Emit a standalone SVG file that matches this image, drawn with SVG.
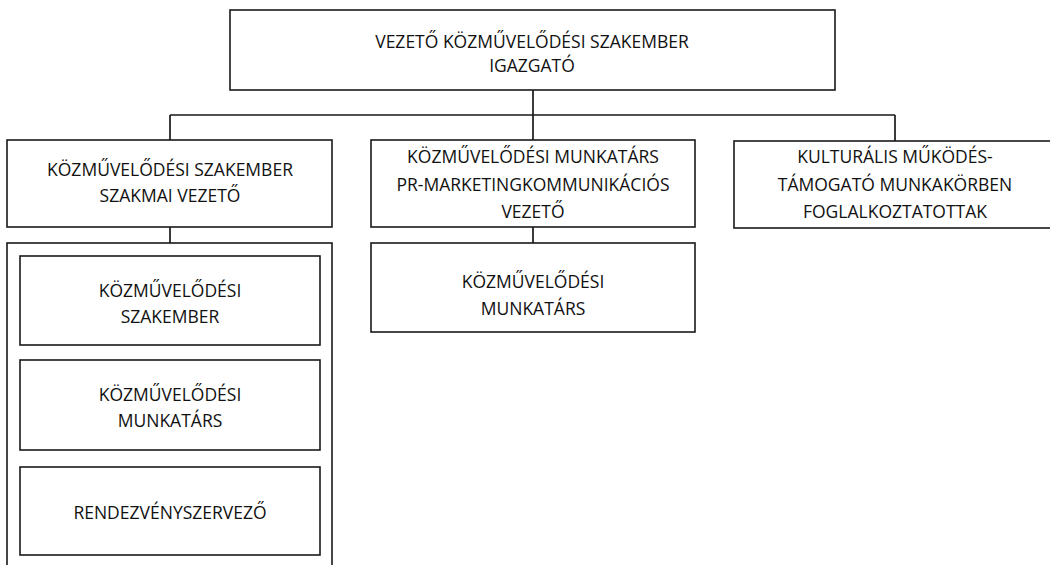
<svg xmlns="http://www.w3.org/2000/svg" width="1050" height="565" viewBox="0 0 1050 565">
<style>
.box{fill:#fff;stroke:#1a1a1a;stroke-width:1.6}
.con{fill:none;stroke:#1a1a1a;stroke-width:1.7}
text{font-family:"Open Sans","Noto Sans","DejaVu Sans",sans-serif;font-size:17.5px;fill:#111;text-anchor:middle}
</style>
<rect width="1050" height="565" fill="#fff"/>
<g id="connectors">
<path class="con" d="M533 90V115M170 115H895M170 115V140M533 115V140M895 115V141M170 227V243M533 227V243"/>
</g>
<g id="n-top">
<rect class="box" x="230" y="10" width="605" height="80"/>
<text x="532" y="48">VEZETŐ KÖZMŰVELŐDÉSI SZAKEMBER</text>
<text x="532" y="72">IGAZGATÓ</text>
</g>
<g id="n-left">
<rect class="box" x="7" y="140" width="325" height="87"/>
<text x="170" y="176">KÖZMŰVELŐDÉSI SZAKEMBER</text>
<text x="170" y="202">SZAKMAI VEZETŐ</text>
</g>
<g id="n-mid">
<rect class="box" x="371" y="140" width="324" height="87"/>
<text x="533" y="163">KÖZMŰVELŐDÉSI MUNKATÁRS</text>
<text x="533" y="191">PR-MARKETINGKOMMUNIKÁCIÓS</text>
<text x="533" y="218">VEZETŐ</text>
</g>
<g id="n-right">
<rect class="box" x="734" y="141" width="322" height="87"/>
<text x="895" y="163">KULTURÁLIS MŰKÖDÉS-</text>
<text x="895" y="191">TÁMOGATÓ MUNKAKÖRBEN</text>
<text x="895" y="218">FOGLALKOZTATOTTAK</text>
</g>
<g id="n-container">
<rect class="box" x="7" y="243" width="325" height="340"/>
</g>
<g id="n-sub1">
<rect class="box" x="20" y="256" width="300" height="89"/>
<text x="170" y="297">KÖZMŰVELŐDÉSI</text>
<text x="170" y="323">SZAKEMBER</text>
</g>
<g id="n-sub2">
<rect class="box" x="20" y="360" width="300" height="90"/>
<text x="170" y="401">KÖZMŰVELŐDÉSI</text>
<text x="170" y="427">MUNKATÁRS</text>
</g>
<g id="n-sub3">
<rect class="box" x="20" y="467" width="300" height="88"/>
<text x="170" y="519">RENDEZVÉNYSZERVEZŐ</text>
</g>
<g id="n-mid-sub">
<rect class="box" x="371" y="243" width="324" height="89"/>
<text x="533" y="288">KÖZMŰVELŐDÉSI</text>
<text x="533" y="315">MUNKATÁRS</text>
</g>
</svg>
